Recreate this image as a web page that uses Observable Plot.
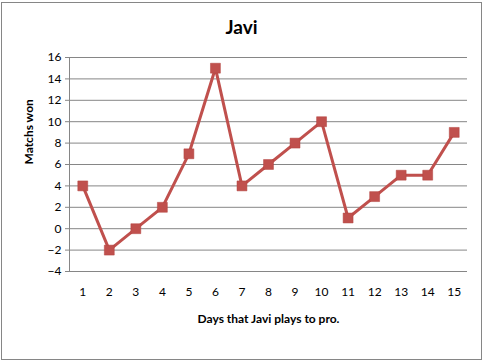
<!DOCTYPE html>
<html>
<head>
<meta charset="utf-8">
<script src="https://cdn.jsdelivr.net/npm/d3@7"></script>
<script src="https://cdn.jsdelivr.net/npm/@observablehq/plot@0.6"></script>
<style>
  html, body { margin: 0; padding: 0; background: #fff; }
  #wrap { position: relative; width: 486px; height: 361px; }
  #border { position: absolute; left: 1px; top: 2px; width: 479px; height: 356px; border: 1px solid #868686; pointer-events: none; }
  #chart { position: absolute; left: 0; top: 0; }
</style>
</head>
<body>
<div id="wrap"><div id="chart"></div><div id="border"></div></div>
<script>
const days = [1, 2, 3, 4, 5, 6, 7, 8, 9, 10, 11, 12, 13, 14, 15];
const matches = [4, -2, 0, 2, 7, 15, 4, 6, 8, 10, 1, 3, 5, 5, 9];
const yTicks = [-4, -2, 0, 2, 4, 6, 8, 10, 12, 14, 16];
const titleText = "Javi";
const xLabel = "Days that Javi plays to pro.";
const yLabel = "Matchs won";

const data = days.map((d, i) => ({day: d, value: matches[i]}));
const red = "#C0504D";
const grid = "#868686";

const plot = Plot.plot({
  width: 486,
  height: 361,
  marginLeft: 69,
  marginRight: 19,
  marginTop: 57,
  marginBottom: 90,
  style: {fontFamily: "Lato, 'Open Sans', sans-serif", fontSize: "12px", color: "#000", background: "transparent"},
  x: {type: "point", domain: days, padding: 0.5, round: false},
  y: {domain: [-4, 16]},
  marks: [
    Plot.ruleY(yTicks, {stroke: grid, strokeWidth: 1}),
    Plot.frame({anchor: "left", stroke: grid}),
    Plot.axisY({ticks: yTicks, tickSize: 4, tickPadding: 4, stroke: grid, label: null, fill: "#000"}),
    Plot.axisX({ticks: days, tickSize: 0, tickPadding: 16, label: null, fill: "#000"}),
    Plot.line(data, {x: "day", y: "value", stroke: red, strokeWidth: 3}),
    Plot.dot(data, {x: "day", y: "value", symbol: "square", r: 5.6, fill: red, stroke: "#B3423F", strokeWidth: 0.5}),
    Plot.text([titleText], {frameAnchor: "top", dy: -30, dx: -27, text: d => d, fontSize: 19, fontWeight: "bold", lineAnchor: "middle"}),
    Plot.text([xLabel], {frameAnchor: "bottom", dy: 48, text: d => d, fontSize: 12, fontWeight: "bold", lineAnchor: "middle"}),
    Plot.text([yLabel], {frameAnchor: "left", dx: -40, rotate: -90, text: d => d, fontSize: 12, fontWeight: "bold", lineAnchor: "middle"})
  ]
});
document.getElementById("chart").appendChild(plot);
</script>
</body>
</html>
